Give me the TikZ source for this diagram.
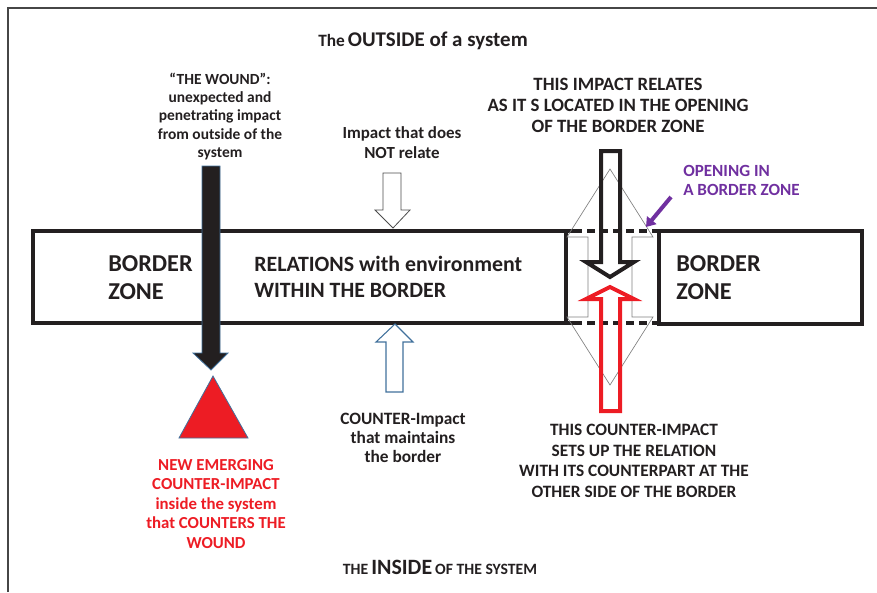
\documentclass[tikz,border=0pt]{standalone}
\usepackage{fontspec}
\setmainfont{Carlito}
\usetikzlibrary{arrows.meta}
\definecolor{txt}{HTML}{231F20}
\definecolor{wred}{HTML}{ED1C24}
\definecolor{steel}{HTML}{41719C}
\definecolor{purp}{RGB}{112,48,160}
\definecolor{framec}{RGB}{70,70,70}
\newcommand\fsz[2]{\fontsize{#1}{#2}\selectfont\bfseries}
\tikzset{
  lbl/.style={inner sep=0pt, text=txt, align=center},
  zone/.style={draw=txt, line width=3pt},
  dashzone/.style={draw=txt, line width=3pt, dash pattern=on 6pt off 3.75pt},
  thinarrow/.style={draw=gray, line width=0.5pt},
}
\begin{document}
\begin{tikzpicture}[x=0.75pt,y=-0.75pt]
\useasboundingbox (0,0) rectangle (877,592);
% frame
\draw[framec, line width=1.3pt] (8,592) -- (8,8) -- (877,8);

% border zones
\draw[zone] (566,231) -- (33,231) -- (33,323) -- (566,323) -- cycle;
\draw[zone] (566,231) -- (574,231);
\draw[zone] (566,323) -- (574,323);
\draw[dashzone] (574,231) -- (659,231);
\draw[dashzone] (574,323) -- (659,323);
\draw[zone] (659,231) rectangle (862,324);

% thin double arrow in opening
\draw[thinarrow] (610,169) -- (653,237) -- (632,237) -- (632,317) -- (653,317) -- (610,385)
  -- (567,317) -- (588,317) -- (588,237) -- (567,237) -- cycle;

% black impact arrow
\draw[txt, line width=3pt, line join=miter] (601,151) -- (620,151) -- (620,262) -- (634,262) -- (610,277)
  -- (586,262) -- (601,262) -- cycle;
% red counter-impact arrow
\draw[wred, line width=3pt, line join=miter] (610,287) -- (634,299) -- (620,299) -- (620,411) -- (601,411)
  -- (601,299) -- (586,299) -- cycle;

% purple pointer
\coordinate (pstart) at (671,197);
\coordinate (ptip) at (646,227);
\draw[purp, line width=3pt, -{Triangle[length=6.75pt,width=9pt]}] (pstart) -- (ptip);

% wound arrow
\draw[steel, line width=0.6pt, fill=txt] (202,166) -- (220,166) -- (220,353) -- (228,353) -- (211,370)
  -- (193,353) -- (202,353) -- cycle;
% red triangle
\draw[steel, line width=0.6pt, fill=wred] (213,376) -- (248,438) -- (179,438) -- cycle;

% impact that does not relate
\draw[gray!60!black, line width=0.6pt, fill=white] (383,173) -- (401,173) -- (401,210) -- (410,210) -- (393,228)
  -- (375,210) -- (383,210) -- cycle;
% counter impact
\draw[steel, line width=0.8pt, fill=white] (395,324) -- (413,342) -- (403,342) -- (403,392) -- (386,392)
  -- (386,342) -- (376,342) -- cycle;

% texts
\node[lbl] (outside) at (423,41) {{\fsz{13}{15}The} {\fsz{15.7}{18}OUTSIDE of a system}};
\node[lbl] (inside) at (440,567) {{\fsz{11.8}{14}THE} {\fsz{16.4}{19}INSIDE} {\fsz{11.8}{14}OF THE SYSTEM}};

\node[lbl, align=left, anchor=west, font=\fsz{18.2}{20.5}] (bz1) at (108,277.5) {BORDER\\ZONE};
\node[lbl, align=left, anchor=west, font=\fsz{16.4}{20}] (rel) at (254,277) {RELATIONS with environment\\WITHIN THE BORDER};
\node[lbl, align=left, anchor=west, font=\fsz{18.2}{20.5}] (bz2) at (676,277.5) {BORDER\\ZONE};

\node[lbl, font=\fsz{11.6}{13.7}] (wound) at (220,116.5) {``THE WOUND'':\\unexpected and\\penetrating impact\\from outside of the\\system};
\node[lbl, font=\fsz{12.7}{15}] (notrel) at (402,143) {Impact that does\\NOT relate};
\node[lbl, font=\fsz{14.1}{15.75}] (relates) at (618,105) {THIS IMPACT RELATES\\AS IT S LOCATED IN THE OPENING\\OF THE BORDER ZONE};
\node[lbl, align=left, anchor=west, text=purp, font=\fsz{12.8}{14.25}] (opening) at (683,180.5) {OPENING IN\\A BORDER ZONE};
\node[lbl, font=\fsz{13}{15.5}] (counterrel) at (634,461) {THIS COUNTER-IMPACT\\SETS UP THE RELATION\\WITH ITS COUNTERPART AT THE\\OTHER SIDE OF THE BORDER};
\node[lbl, font=\fsz{13}{14.25}] (maint) at (403,438) {COUNTER-Impact\\that maintains\\the border};
\node[lbl, text=wred, font=\fsz{12.6}{14.6}] (emerg) at (216,504) {NEW EMERGING\\COUNTER-IMPACT\\inside the system\\that COUNTERS THE\\WOUND};
\end{tikzpicture}
\end{document}
